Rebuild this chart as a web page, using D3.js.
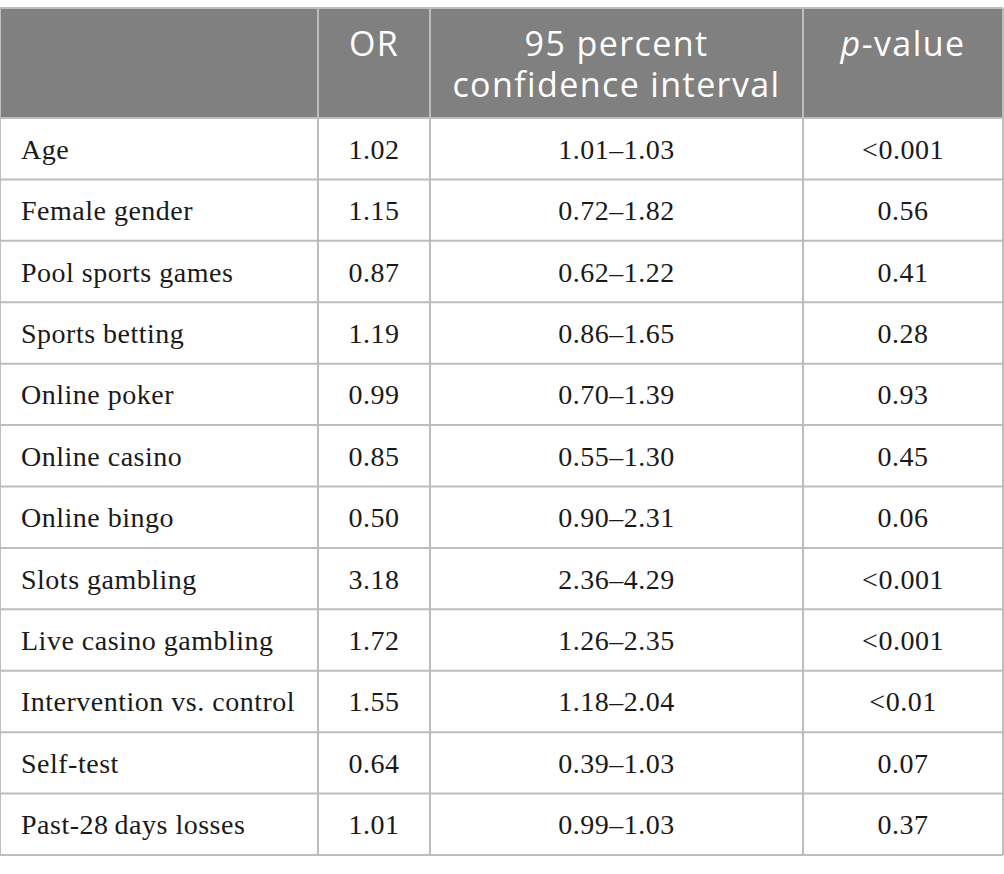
<!DOCTYPE html>
<html>
<head>
<meta charset="utf-8">
<script src="https://cdn.jsdelivr.net/npm/d3@7"></script>
<style>
  body { margin: 0; background: #fff; }
</style>
</head>
<body>
<div id="chart-area"></div>
<script>
var variables = ["Age", "Female gender", "Pool sports games", "Sports betting", "Online poker",
  "Online casino", "Online bingo", "Slots gambling", "Live casino gambling",
  "Intervention vs. control", "Self-test", "Past-28\u2009days losses"];
var oddsRatios = ["1.02", "1.15", "0.87", "1.19", "0.99", "0.85", "0.50", "3.18", "1.72", "1.55", "0.64", "1.01"];
var ciLower = ["1.01", "0.72", "0.62", "0.86", "0.70", "0.55", "0.90", "2.36", "1.26", "1.18", "0.39", "0.99"];
var ciUpper = ["1.03", "1.82", "1.22", "1.65", "1.39", "1.30", "2.31", "4.29", "2.35", "2.04", "1.03", "1.03"];
var pValues = ["<0.001", "0.56", "0.41", "0.28", "0.93", "0.45", "0.06", "<0.001", "<0.001", "<0.01", "0.07", "0.37"];

var width = 1004, height = 874;
var tableTop = 8, headH = 110, tableBottom = 855;
var colEdges = [0, 318, 430, 803, 1003];
var lineColor = "#bdbdbd";

var svg = d3.select("#chart-area").append("svg")
    .attr("width", width)
    .attr("height", height);

var rows = variables.map((v, i) => ({
  label: v, or: oddsRatios[i], ci: ciLower[i] + "\u2013" + ciUpper[i], p: pValues[i]
}));

var y = d3.scaleBand().domain(d3.range(rows.length)).range([tableTop + headH, tableBottom]);

// header
svg.append("rect")
    .attr("x", 0).attr("y", tableTop)
    .attr("width", colEdges[4]).attr("height", headH)
    .attr("fill", "#808080");

var hdr = svg.append("g").attr("fill", "#fff")
    .attr("font-family", "'Open Sans', sans-serif").attr("font-size", 34)
    .attr("letter-spacing", 1.4)
    .attr("text-anchor", "middle");

hdr.append("text").attr("x", (colEdges[1] + colEdges[2]) / 2).attr("y", 56).text("OR");
var ciHead = hdr.append("text").attr("y", 56);
ciHead.append("tspan").attr("x", (colEdges[2] + colEdges[3]) / 2).text("95 percent");
ciHead.append("tspan").attr("x", (colEdges[2] + colEdges[3]) / 2).attr("dy", 41).text("confidence interval");
var pv = hdr.append("text").attr("x", (colEdges[3] + colEdges[4]) / 2).attr("y", 56);
pv.append("tspan").attr("font-style", "italic").text("p");
pv.append("tspan").text("-value");

// grid lines
var grid = svg.append("g").attr("stroke", lineColor).attr("stroke-width", 2);
grid.append("line").attr("x1", 0).attr("x2", colEdges[4]).attr("y1", tableTop).attr("y2", tableTop);
grid.selectAll(".hline").data(d3.range(rows.length + 1)).enter().append("line")
    .attr("x1", 0).attr("x2", colEdges[4])
    .attr("y1", d => d < rows.length ? y(d) : tableBottom)
    .attr("y2", d => d < rows.length ? y(d) : tableBottom);
grid.selectAll(".vline").data(colEdges).enter().append("line")
    .attr("x1", d => d).attr("x2", d => d)
    .attr("y1", tableTop).attr("y2", tableBottom);

// body
var body = svg.append("g")
    .attr("font-family", "'Liberation Serif', 'DejaVu Serif', serif")
    .attr("font-size", 28).attr("letter-spacing", 0.5).attr("fill", "#1a1a1a");

var rowG = body.selectAll(".row").data(rows).enter().append("g")
    .attr("transform", (d, i) => "translate(0," + (y(i) + y.bandwidth() / 2 + 10) + ")");

rowG.append("text").attr("x", 21).text(d => d.label);
rowG.append("text").attr("x", (colEdges[1] + colEdges[2]) / 2).attr("text-anchor", "middle").text(d => d.or);
rowG.append("text").attr("x", (colEdges[2] + colEdges[3]) / 2).attr("text-anchor", "middle").text(d => d.ci);
rowG.append("text").attr("x", (colEdges[3] + colEdges[4]) / 2).attr("text-anchor", "middle").text(d => d.p);
</script>
</body>
</html>
